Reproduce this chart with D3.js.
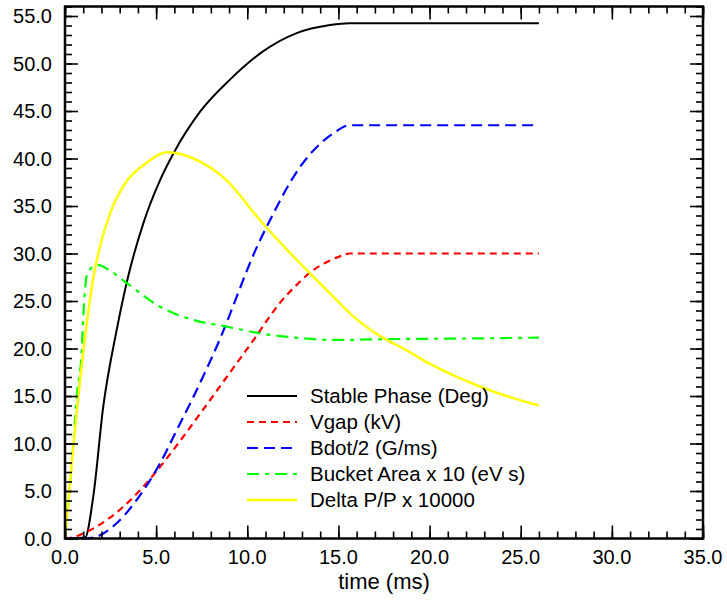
<!DOCTYPE html>
<html>
<head>
<meta charset="utf-8">
<script src="https://cdn.jsdelivr.net/npm/d3@7"></script>
<style>
    body { margin: 0; background: #fff; }
    text { font-family: "Liberation Sans", Arial, Helvetica, sans-serif; }
</style>
</head>
<body>
<div id="wrapper"></div>
<script>
// values (time in ms)
const phaseT = [0, 1.1, 1.55, 2.1, 2.83, 3.38, 4.3, 5.21, 5.94, 7.4, 9.05, 10.88, 12.71, 14.54, 15.6, 26]
const phaseV = [0, 0.1, 4.4, 13.9, 21.9, 26.9, 33.2, 37.7, 40.5, 44.9, 48.3, 51.3, 53.2, 54.05, 54.25, 54.25]

const vgapT = [0, 0.5, 1.19, 2.47, 3.93, 5.03, 6.13, 7.4, 8.87, 9.78, 10.42, 11.06, 11.79, 12.71, 13.44, 14.26, 15.08, 15.6, 26]
const vgapV = [0, 0.15, 0.7, 2.2, 4.7, 7.1, 9.8, 13.1, 17.0, 19.4, 21.1, 22.9, 24.8, 26.7, 28.0, 29.0, 29.7, 30.0, 30.0]

const bdotT = [0, 1.0, 1.55, 2.83, 3.93, 5.21, 6.13, 7.04, 7.95, 8.3, 10.7, 11.06, 12.89, 14.72, 15.6, 26]
const bdotV = [0, 0, 0.1, 1.6, 4.05, 7.9, 11.4, 14.9, 18.6, 20.1, 31.4, 32.8, 39.1, 42.65, 43.5, 43.5]

const bucketT = [0, 0.46, 0.64, 0.92, 1.0, 1.19, 1.45, 1.8, 2.3, 3.38, 5.21, 7.04, 8.87, 10.7, 12.89, 14.72, 18.38, 22, 26]
const bucketV = [0, 10, 14.9, 19.8, 23.3, 27.6, 28.5, 28.8, 28.4, 26.9, 24.4, 23.0, 22.3, 21.6, 21.1, 20.9, 21.0, 21.05, 21.15]

const deltaT = [0, 0.73, 1.1, 1.55, 2.01, 2.47, 3.38, 4.3, 5.67, 7.04, 8.87, 10.7, 13.44, 14.54, 15.63, 17.65, 18.38, 20.0, 22.76, 25.9, 26]
const deltaV = [0, 14.9, 21.2, 27.4, 31.4, 34.2, 37.6, 39.3, 40.65, 40.0, 37.7, 33.5, 27.9, 25.8, 23.7, 20.9, 20.2, 18.4, 16.0, 14.05, 14.0]

const seriesNames = [
    "Stable Phase (Deg)",
    "Vgap (kV)",
    "Bdot/2 (G/ms)",
    "Bucket Area x 10 (eV s)",
    "Delta P/P x 10000",
]

const xMajorTicks = [0, 5, 10, 15, 20, 25, 30, 35]
const yMajorTicks = [0, 5, 10, 15, 20, 25, 30, 35, 40, 45, 50, 55]

const xLabel = "time (ms)"

function drawChart() {

    const dimensions = {
        width: 727,
        height: 600,
        left: 65,
        right: 703,
        top: 6.5,
        bottom: 538.5,
    }

    const series = [
        { name: seriesNames[0], t: phaseT, v: phaseV, color: "#000000", dash: null, width: 2 },
        { name: seriesNames[1], t: vgapT, v: vgapV, color: "#ff0000", dash: "7,5", width: 2.2 },
        { name: seriesNames[2], t: bdotT, v: bdotV, color: "#0000ff", dash: "11,6", width: 2.2 },
        { name: seriesNames[3], t: bucketT, v: bucketV, color: "#00ff00", dash: "12,6,4,6", width: 2.2 },
        { name: seriesNames[4], t: deltaT, v: deltaV, color: "#ffff00", dash: null, width: 2.5 },
    ]

    const svg = d3.select("#wrapper")
        .append("svg")
        .attr("width", dimensions.width)
        .attr("height", dimensions.height)

    const xScale = d3.scaleLinear()
        .domain([0, 35])
        .range([dimensions.left, dimensions.right])

    const yScale = d3.scaleLinear()
        .domain([0, 56])
        .range([dimensions.bottom, dimensions.top])

    const xMinor = d3.range(0, 36, 1)
    const yMinor = d3.range(0, 57, 1)

    // curves
    const lineGen = d3.line()
        .x(d => xScale(d[0]))
        .y(d => yScale(d[1]))
        .curve(d3.curveMonotoneX)

    svg.append("g")
        .selectAll("path")
        .data(series)
        .join("path")
        .attr("d", s => lineGen(d3.zip(s.t, s.v)))
        .attr("fill", "none")
        .attr("stroke", s => s.color)
        .attr("stroke-width", s => s.width)
        .attr("stroke-dasharray", s => s.dash)

    // axes, ticks pointing inward on all four sides
    const addAxis = (axisFn, scale, values, size, transform) => {
        const g = svg.append("g")
            .attr("transform", transform)
            .call(axisFn(scale).tickValues(values).tickSize(size).tickSizeOuter(0).tickFormat(""))
        g.select(".domain").remove()
        g.selectAll(".tick line").attr("stroke", "#000").attr("stroke-width", 1.6)
        return g
    }

    addAxis(d3.axisBottom, xScale, xMinor, -7, `translate(0,${dimensions.bottom})`)
    addAxis(d3.axisBottom, xScale, xMajorTicks, -13, `translate(0,${dimensions.bottom})`)
    addAxis(d3.axisTop, xScale, xMinor, -7, `translate(0,${dimensions.top})`)
    addAxis(d3.axisTop, xScale, xMajorTicks, -13, `translate(0,${dimensions.top})`)
    addAxis(d3.axisLeft, yScale, yMinor, -7, `translate(${dimensions.left},0)`)
    addAxis(d3.axisLeft, yScale, yMajorTicks, -13, `translate(${dimensions.left},0)`)
    addAxis(d3.axisRight, yScale, yMinor, -7, `translate(${dimensions.right},0)`)
    addAxis(d3.axisRight, yScale, yMajorTicks, -13, `translate(${dimensions.right},0)`)

    svg.append("rect")
        .attr("x", dimensions.left)
        .attr("y", dimensions.top)
        .attr("width", dimensions.right - dimensions.left)
        .attr("height", dimensions.bottom - dimensions.top)
        .attr("fill", "none")
        .attr("stroke", "#000")
        .attr("stroke-width", 2.5)

    // tick labels
    svg.append("g")
        .selectAll("text")
        .data(xMajorTicks)
        .join("text")
        .attr("x", d => xScale(d))
        .attr("y", dimensions.bottom + 25)
        .attr("text-anchor", "middle")
        .attr("font-size", 20)
        .text(d => d3.format(".1f")(d))

    svg.append("g")
        .selectAll("text")
        .data(yMajorTicks)
        .join("text")
        .attr("x", dimensions.left - 13)
        .attr("y", d => yScale(d))
        .attr("dy", "0.35em")
        .attr("text-anchor", "end")
        .attr("font-size", 20)
        .text(d => d3.format(".1f")(d))

    svg.append("text")
        .attr("x", (dimensions.left + dimensions.right) / 2)
        .attr("y", 589)
        .attr("text-anchor", "middle")
        .attr("font-size", 22)
        .text(xLabel)

    // legend
    const legend = svg.append("g")
        .attr("transform", "translate(247,396)")

    const rows = legend.selectAll("g")
        .data(series)
        .join("g")
        .attr("transform", (d, i) => `translate(0,${i * 26})`)

    rows.append("line")
        .attr("x1", 0)
        .attr("x2", 50)
        .attr("stroke", d => d.color)
        .attr("stroke-width", d => d.width)
        .attr("stroke-dasharray", d => d.dash)

    rows.append("text")
        .attr("x", 63)
        .attr("y", 7)
        .attr("font-size", 20.5)
        .text(d => d.name)
}

drawChart()
</script>
</body>
</html>
